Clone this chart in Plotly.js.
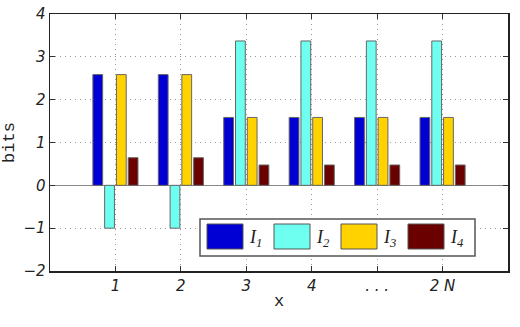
<!DOCTYPE html>
<html>
<head>
<meta charset="utf-8">
<script src="https://cdn.plot.ly/plotly-3.0.1.min.js"></script>
<style>
  html, body { margin: 0; padding: 0; background: #fff; }
  #chart { width: 520px; height: 327px; }
</style>
</head>
<body>
<div id="chart"></div>
<script>
// data
const categories = ["1", "2", "3", "4", ". . .", "2 N"];
const seriesNames = ["I<sub>1</sub>", "I<sub>2</sub>", "I<sub>3</sub>", "I<sub>4</sub>"];
const seriesColors = ["#0000d4", "#6ffff0", "#ffd200", "#6b0000"];
const I1 = [2.585, 2.585, 1.585, 1.585, 1.585, 1.585];
const I2 = [-1, -1, 3.37, 3.37, 3.37, 3.37];
const I3 = [2.585, 2.585, 1.585, 1.585, 1.585, 1.585];
const I4 = [0.645, 0.645, 0.475, 0.475, 0.475, 0.475];
const yTicks = [-2, -1, 0, 1, 2, 3, 4];
const yTickText = ["\u22122", "\u22121", "0", "1", "2", "3", "4"];

const series = [I1, I2, I3, I4];
const traces = series.map((vals, i) => ({
  type: "bar",
  x: categories,
  y: vals,
  name: seriesNames[i],
  marker: { color: seriesColors[i], line: { color: "#666", width: 1 } },
  showlegend: false,
  hoverinfo: "skip"
}));

const tickFont = { family: "DejaVu Sans", size: 15, style: "italic", color: "#222" };

// custom legend with big swatches (paper coords)
const pw = 458, ph = 257; // plot area size in px
const px = v => v / pw, py = v => v / ph;
const legLeft = px(150), legTop = py(52), legBottom = py(15);
const shapes = [{
  type: "rect", xref: "paper", yref: "paper",
  x0: legLeft, x1: px(425), y0: legBottom, y1: legTop,
  line: { color: "#555", width: 1.5 }, fillcolor: "#fff", layer: "above"
}];
const annotations = [];
const step = px(67);
seriesColors.forEach((c, i) => {
  const x0 = legLeft + px(7) + i * step;
  shapes.push({
    type: "rect", xref: "paper", yref: "paper",
    x0: x0, x1: x0 + px(36), y0: py(22), y1: py(47),
    line: { color: "#555", width: 1 }, fillcolor: c, layer: "above"
  });
  annotations.push({
    xref: "paper", yref: "paper", x: x0 + px(40), y: py(33),
    xanchor: "left", yanchor: "middle", showarrow: false,
    text: "<i>I</i><sub><i>" + (i + 1) + "</i></sub>",
    font: { family: "Liberation Serif", size: 18, color: "#222" }
  });
});

const layout = {
  width: 520, height: 327,
  margin: { l: 50, r: 12, t: 14, b: 56 },
  paper_bgcolor: "#fff", plot_bgcolor: "#fff",
  barmode: "group", bargap: 0.28, bargroupgap: 0.17,
  xaxis: {
    type: "category", range: [-1, 6],
    showline: true, linecolor: "#222", linewidth: 1.5, mirror: "ticks",
    ticks: "inside", ticklen: 5, tickcolor: "#333",
    showgrid: true, gridcolor: "#999", griddash: "1px,4px", gridwidth: 1,
    tickfont: tickFont,
    title: { text: "x", font: { family: "Liberation Mono", size: 17, color: "#222" }, standoff: 0 }
  },
  yaxis: {
    range: [-2, 4], tickvals: yTicks, ticktext: yTickText,
    showline: true, linecolor: "#222", linewidth: 1.5, mirror: "ticks",
    ticks: "inside", ticklen: 5, tickcolor: "#333",
    showgrid: true, gridcolor: "#999", griddash: "1px,4px", gridwidth: 1,
    zeroline: true, zerolinecolor: "#888", zerolinewidth: 1.5,
    tickfont: tickFont,
    title: { text: "bits", font: { family: "Liberation Mono", size: 17, color: "#222" }, standoff: 8 }
  },
  shapes: shapes,
  annotations: annotations
};

Plotly.newPlot("chart", traces, layout, { staticPlot: true });
</script>
</body>
</html>
